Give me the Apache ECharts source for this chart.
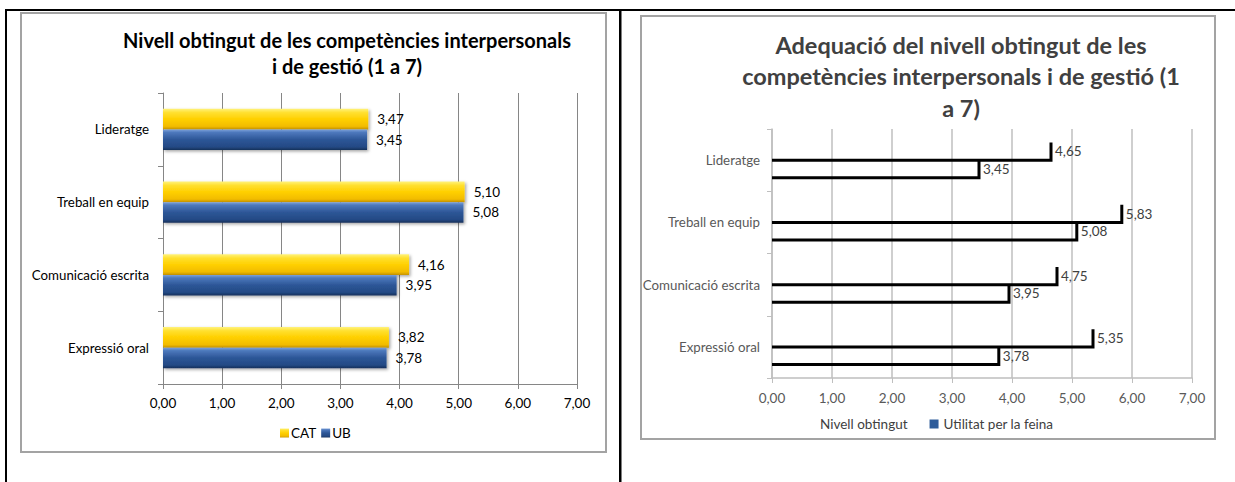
<!DOCTYPE html>
<html>
<head>
<meta charset="utf-8">
<script src="https://cdn.jsdelivr.net/npm/echarts@6/dist/echarts.min.js"></script>
<style>
html,body{margin:0;padding:0;background:#fff;}
#chart{width:1235px;height:482px;}
</style>
</head>
<body>
<div id="chart"></div>
<script>
// ---- data ----
const categories = ['Expressió oral', 'Comunicació escrita', 'Treball en equip', 'Lideratge'];
const catValues = [3.82, 4.16, 5.10, 3.47];
const ubValues = [3.78, 3.95, 5.08, 3.45];
const nivellValues = [3.78, 3.95, 5.08, 3.45];
const utilitatValues = [5.35, 4.75, 5.83, 4.65];
const xMin = 0, xMax = 7, xStep = 1;
const leftTitle = 'Nivell obtingut de les competències interpersonals\ni de gestió (1 a 7)';
const rightTitle = 'Adequació del nivell obtingut de les\ncompetències interpersonals i de gestió (1\na 7)';

const FONT = 'Lato, Carlito, "Open Sans", sans-serif';
const fmt = v => Number(v).toFixed(2).replace('.', ',');

const chart = echarts.init(document.getElementById('chart'), null, {renderer: 'svg'});

function lin(stops) {
  return new echarts.graphic.LinearGradient(0, 0, 0, 1, stops.map(c => ({offset: c[0], color: c[1]})));
}
const yellowGrad = lin([[0, '#FFF27A'], [0.18, '#FFE030'], [0.5, '#FFD000'], [0.85, '#F2BC00'], [1, '#C99500']]);
const blueGrad = lin([[0, '#7FA3DA'], [0.15, '#4D78BC'], [0.5, '#2D5697'], [0.85, '#244A85'], [1, '#17315C']]);

function stepItem(slot) {
  return function (params, api) {
    const v = api.value(0), c = api.value(1);
    const p0 = api.coord([0, c]);
    const p1 = api.coord([v, c]);
    const band = api.size([0, 1])[1];
    const bw = band * 0.285;
    const bottom = slot === 0 ? p0[1] + bw : p0[1];
    const top = bottom - bw;
    return {
      type: 'group',
      children: [
        {type: 'polyline', shape: {points: [[p0[0], bottom], [p1[0], bottom], [p1[0], top]]},
         style: {stroke: '#000', lineWidth: 3, fill: null, lineJoin: 'miter', lineCap: 'butt'}},
        {type: 'text', x: p1[0] + 4, y: (top + bottom) / 2,
         style: {text: fmt(v), fill: '#404040', fontSize: 13.5, fontFamily: FONT, align: 'left', verticalAlign: 'middle'}}
      ]
    };
  };
}

const option = {
  animation: false,
  backgroundColor: '#fff',
  textStyle: {fontFamily: FONT},
  graphic: [
    {type: 'rect', shape: {x: 5, y: 9, width: 1230, height: 2}, style: {fill: '#000'}, silent: true},
    {type: 'rect', shape: {x: 5, y: 9, width: 2, height: 473}, style: {fill: '#000'}, silent: true},
    {type: 'rect', shape: {x: 619, y: 9, width: 2.5, height: 473}, style: {fill: '#000'}, silent: true},
    {type: 'rect', shape: {x: 21, y: 13, width: 585, height: 439}, style: {fill: 'none', stroke: '#A3A3A3', lineWidth: 2}, silent: true, z: -1},
    {type: 'rect', shape: {x: 641, y: 16, width: 574, height: 423}, style: {fill: 'none', stroke: '#A3A3A3', lineWidth: 2}, silent: true, z: -1}
  ],
  title: [
    {text: leftTitle, left: 347, top: 27, padding: 0, textAlign: 'center',
     textStyle: {fontFamily: FONT, fontSize: 20, fontWeight: 'bold', color: '#000', lineHeight: 26}},
    {text: rightTitle, left: 961, top: 29, padding: 0, textAlign: 'center',
     textStyle: {fontFamily: FONT, fontSize: 23.5, fontWeight: 'bold', color: '#404040', lineHeight: 31.5}}
  ],
  legend: [
    {data: ['CAT', 'UB'], left: 280, top: 426, itemWidth: 9, itemHeight: 9, itemGap: 5, icon: 'rect', padding: 0,
     textStyle: {fontFamily: FONT, fontSize: 13.5, color: '#000', padding: [0, 0, 0, -3]}},
    {data: [{name: 'Nivell obtingut', itemStyle: {color: 'rgba(0,0,0,0)'}},
            {name: 'Utilitat per la feina', itemStyle: {color: '#2E5C9A'}}],
     left: 806, top: 417, itemWidth: 9, itemHeight: 9, itemGap: 22, icon: 'rect', padding: 0,
     textStyle: {fontFamily: FONT, fontSize: 13.5, color: '#404040'}}
  ],
  grid: [
    {left: 163, top: 93, width: 414, height: 291},
    {left: 772, top: 129, width: 420, height: 249}
  ],
  xAxis: [
    {gridIndex: 0, type: 'value', min: xMin, max: xMax, interval: xStep,
     axisLine: {show: true, lineStyle: {color: '#868686', width: 1}},
     axisTick: {show: true, length: 5, lineStyle: {color: '#868686'}},
     splitLine: {show: true, lineStyle: {color: '#868686', width: 1}},
     axisLabel: {formatter: fmt, margin: 12, color: '#000', fontSize: 13.5, fontFamily: FONT}},
    {gridIndex: 1, type: 'value', min: xMin, max: xMax, interval: xStep,
     axisLine: {show: true, lineStyle: {color: '#BFBFBF', width: 1.5}},
     axisTick: {show: true, length: 5, lineStyle: {color: '#BFBFBF'}},
     splitLine: {show: true, lineStyle: {color: '#BFBFBF', width: 1.5}},
     axisLabel: {formatter: fmt, margin: 13, color: '#595959', fontSize: 13.5, fontFamily: FONT}}
  ],
  yAxis: [
    {gridIndex: 0, type: 'category', data: categories,
     axisLine: {show: true, lineStyle: {color: '#868686', width: 1}},
     axisTick: {show: true, length: 5, lineStyle: {color: '#868686'}},
     axisLabel: {margin: 14, color: '#000', fontSize: 13.3, fontFamily: FONT}},
    {gridIndex: 1, type: 'category', data: categories,
     axisLine: {show: true, lineStyle: {color: '#BFBFBF', width: 1.5}},
     axisTick: {show: true, length: 5, lineStyle: {color: '#BFBFBF'}},
     axisLabel: {margin: 12, color: '#595959', fontSize: 13.3, fontFamily: FONT}}
  ],
  series: [
    {name: 'CAT', type: 'bar', xAxisIndex: 0, yAxisIndex: 0, data: catValues,
     barGap: '0%', barCategoryGap: '43.6%',
     itemStyle: {color: yellowGrad, shadowColor: 'rgba(0,0,0,0.35)', shadowBlur: 3, shadowOffsetX: 1.5, shadowOffsetY: 1.5},
     label: {show: true, position: 'right', distance: 9, formatter: p => fmt(p.value), color: '#000', fontSize: 13.5, fontFamily: FONT}},
    {name: 'UB', type: 'bar', xAxisIndex: 0, yAxisIndex: 0, data: ubValues,
     barGap: '0%', barCategoryGap: '43.6%',
     itemStyle: {color: blueGrad, shadowColor: 'rgba(0,0,0,0.35)', shadowBlur: 3, shadowOffsetX: 1.5, shadowOffsetY: 1.5},
     label: {show: true, position: 'right', distance: 9, formatter: p => fmt(p.value), color: '#000', fontSize: 13.5, fontFamily: FONT}},
    {name: 'Nivell obtingut', type: 'custom', xAxisIndex: 1, yAxisIndex: 1,
     renderItem: stepItem(0), encode: {x: 0, y: 1},
     itemStyle: {color: '#000'},
     data: nivellValues.map((v, i) => [v, i])},
    {name: 'Utilitat per la feina', type: 'custom', xAxisIndex: 1, yAxisIndex: 1,
     renderItem: stepItem(1), encode: {x: 0, y: 1},
     itemStyle: {color: '#2E5C9A'},
     data: utilitatValues.map((v, i) => [v, i])}
  ]
};
chart.setOption(option);
</script>
</body>
</html>
